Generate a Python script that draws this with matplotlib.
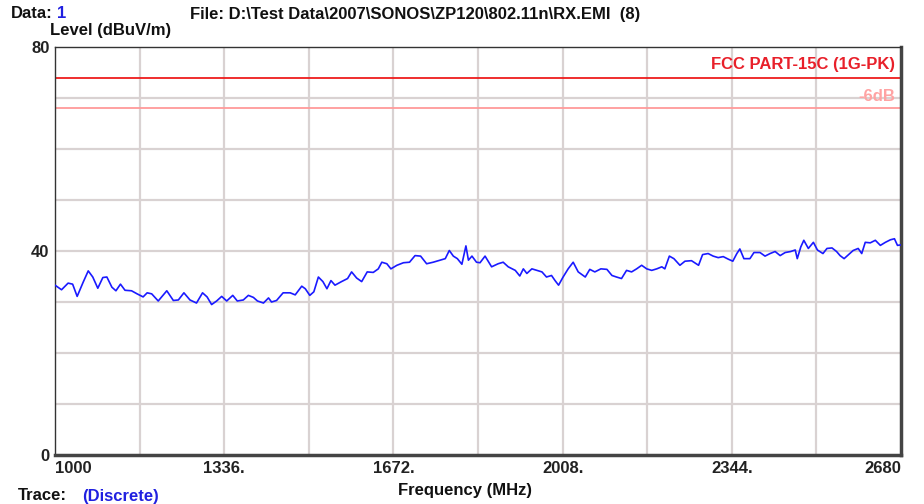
import matplotlib
matplotlib.use("Agg")
import matplotlib.pyplot as plt
import numpy as np

# ---- data ----
freq_mhz = [1000, 1013, 1026, 1035, 1044, 1056, 1066, 1075, 1085, 1095, 1103, 1113, 1121, 1130,
            1139, 1152, 1163, 1175, 1183, 1192, 1205, 1222, 1235, 1245, 1256, 1268, 1281, 1293,
            1302, 1311, 1321, 1331, 1341, 1353, 1362, 1374, 1384, 1394, 1402, 1414, 1424, 1430,
            1440, 1453, 1467, 1477, 1490, 1497, 1506, 1514, 1523, 1532, 1540, 1548, 1556, 1569,
            1581, 1589, 1599, 1609, 1620, 1632, 1642, 1649, 1659, 1667, 1679, 1692, 1704, 1715,
            1726, 1738, 1751, 1765, 1775, 1783, 1791, 1799, 1808, 1816, 1821, 1828, 1837, 1844,
            1854, 1867, 1880, 1890, 1900, 1914, 1923, 1930, 1937, 1947, 1957, 1967, 1976, 1986,
            1993, 2000, 2009, 2019, 2029, 2039, 2053, 2062, 2072, 2084, 2096, 2106, 2115, 2125,
            2135, 2145, 2155, 2165, 2175, 2185, 2195, 2205, 2211, 2220, 2229, 2241, 2251, 2264,
            2278, 2286, 2297, 2307, 2317, 2327, 2337, 2346, 2354, 2360, 2368, 2380, 2388, 2400,
            2410, 2420, 2430, 2440, 2450, 2461, 2470, 2474, 2481, 2487, 2496, 2506, 2514, 2525,
            2533, 2543, 2552, 2559, 2567, 2576, 2585, 2595, 2602, 2609, 2619, 2629, 2639, 2649,
            2659, 2667, 2673, 2680]
level_dbuv = [33.3, 32.4, 33.7, 33.5, 31.1, 33.9, 36.1, 34.9, 32.7, 34.8, 34.9, 32.9, 32.2, 33.5,
              32.3, 32.2, 31.6, 31.0, 31.8, 31.6, 30.2, 32.2, 30.3, 30.4, 31.8, 30.4, 29.8, 31.8,
              31.0, 29.5, 30.2, 31.1, 30.2, 31.3, 30.2, 30.4, 31.3, 30.9, 30.2, 29.8, 30.8, 30.0,
              30.3, 31.8, 31.8, 31.4, 33.1, 32.6, 31.3, 32.0, 34.9, 34.0, 32.6, 34.2, 33.3, 34.0,
              34.6, 35.9, 34.7, 34.0, 35.9, 35.8, 36.5, 37.8, 37.5, 36.5, 37.2, 37.7, 37.8, 39.1,
              39.0, 37.5, 37.8, 38.2, 38.5, 40.1, 39.0, 38.5, 37.4, 41.0, 38.2, 39.0, 37.8, 37.7,
              39.0, 36.9, 37.5, 37.8, 36.9, 36.2, 35.1, 36.5, 35.6, 36.5, 36.2, 35.9, 34.9, 35.2,
              34.2, 33.3, 34.9, 36.5, 37.8, 35.9, 34.9, 36.4, 35.9, 36.5, 36.4, 35.2, 34.9, 34.6,
              36.2, 35.9, 36.5, 37.2, 36.5, 36.2, 36.5, 36.9, 36.5, 39.0, 38.5, 37.2, 38.0, 38.1,
              37.2, 39.3, 39.5, 39.0, 38.7, 38.9, 38.4, 38.0, 39.5, 40.4, 38.5, 38.5, 39.7, 39.7,
              39.0, 39.5, 39.9, 39.1, 39.7, 39.9, 40.2, 38.5, 40.8, 42.1, 40.5, 41.7, 40.2, 39.5,
              40.5, 40.6, 39.9, 39.1, 38.5, 39.3, 40.1, 40.5, 39.5, 41.7, 41.6, 42.1, 41.1, 41.7,
              42.2, 42.4, 41.1, 41.2]
limit_db = 74
margin_db = 68
x_ticks = [1000, 1336, 1672, 2008, 2344, 2680]
x_tick_labels = ["1000", "1336.", "1672.", "2008.", "2344.", "2680"]
y_ticks = [0, 40, 80]

plt.rcParams['font.family'] = ['Liberation Sans', 'DejaVu Sans']
plt.rcParams['font.weight'] = 'bold'

fig = plt.figure(figsize=(9.24, 5.04), dpi=100)
ax = fig.add_axes([55/924, 1-455/504, (901-55)/924, (455-47)/504])
ax.set_xlim(1000, 2680)
ax.set_ylim(0, 80)

# grid
for gx in np.arange(1000 + 168, 2680, 168):
    ax.axvline(gx, color='#d9d2d2', lw=1.6, zorder=1)
for gy in range(10, 80, 10):
    ax.axhline(gy, color='#d9d2d2', lw=1.6, zorder=1)

ax.axhline(limit_db, color='#ee1c1c', lw=1.3, zorder=2)
ax.axhline(margin_db, color='#ff9a9a', lw=1.3, zorder=2)
ax.text(2668, limit_db + 1.0, "FCC PART-15C (1G-PK)", color='#e8202a', fontsize=12,
        fontweight='bold', ha='right', va='bottom', zorder=3)
ax.text(2668, 70.3, "-6dB", color='#ffa3a3', fontsize=12, fontweight='bold',
        ha='right', va='center', zorder=3)

ax.plot(freq_mhz, level_dbuv, color='#1a1aff', lw=1.2, zorder=4)

ax.set_xticks(x_ticks)
ax.set_xticklabels(x_tick_labels, fontsize=12, fontweight='bold')
ax.set_yticks(y_ticks)
ax.set_yticklabels([str(v) for v in y_ticks], fontsize=12, fontweight='bold')
ax.tick_params(length=0, pad=4, colors='#222222')
labs = ax.get_xticklabels()
labs[0].set_ha('left')
labs[-1].set_ha('right')

for s in ['top', 'left']:
    ax.spines[s].set_color('#333333')
    ax.spines[s].set_linewidth(1.0)
for s in ['bottom', 'right']:
    ax.spines[s].set_color('#444444')
    ax.spines[s].set_linewidth(2.5)

tkw = dict(fontsize=12, fontweight='bold', va='center', ha='left')
fig.text(11/924, 1-14/504, "Data:", color='#111111', **tkw)
fig.text(57/924, 1-14/504, "1", color='#2020e0', **tkw)
fig.text(190/924, 1-14/504, "File: D:\\Test Data\\2007\\SONOS\\ZP120\\802.11n\\RX.EMI  (8)",
         color='#111111', **tkw)
fig.text(50/924, 1-31/504, "Level (dBuV/m)", color='#111111', **tkw)
fig.text(465/924, 1-490/504, "Frequency (MHz)", fontsize=12, fontweight='bold',
         color='#111111', va='center', ha='center')
fig.text(18/924, 1-496/504, "Trace:", color='#111111', **tkw)
fig.text(82/924, 1-496/504, "(Discrete)", color='#2020e0', **tkw)

fig.savefig("out.png", dpi=100)
